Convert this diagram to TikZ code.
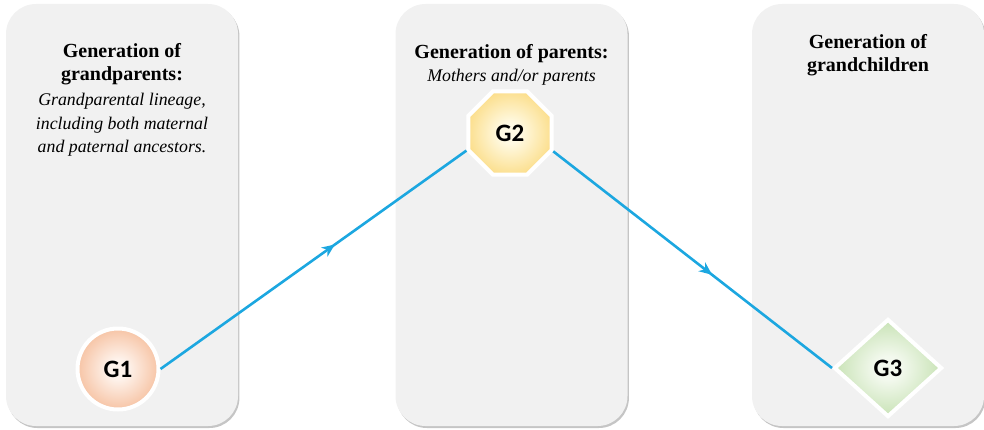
\documentclass[tikz,border=0pt]{standalone}
\usepackage{fontspec}
\setmainfont{Liberation Serif}
\newfontfamily\genfont{Carlito}
\usetikzlibrary{positioning,shapes.geometric,shadows,arrows.meta,decorations.markings}

\definecolor{panelgray}{HTML}{F1F1F1}
\definecolor{linkblue}{HTML}{1CA7E0}
\definecolor{gonein}{HTML}{FEF3EC}
\definecolor{goneout}{HTML}{F3AE84}
\definecolor{gtwoin}{HTML}{FFFAE4}
\definecolor{gtwoout}{HTML}{FAD368}
\definecolor{gthreein}{HTML}{F3F9EE}
\definecolor{gthreeout}{HTML}{B4D89B}

\pgfdeclareradialshading{gonesh}{\pgfpoint{0bp}{0bp}}{color(0bp)=(gonein); color(6bp)=(gonein); color(34bp)=(goneout); color(60bp)=(goneout)}
\pgfdeclareradialshading{gtwosh}{\pgfpoint{0bp}{0bp}}{color(0bp)=(gtwoin); color(6bp)=(gtwoin); color(34bp)=(gtwoout); color(60bp)=(gtwoout)}
\pgfdeclareradialshading{gthreesh}{\pgfpoint{0bp}{0bp}}{color(0bp)=(gthreein); color(6bp)=(gthreein); color(34bp)=(gthreeout); color(60bp)=(gthreeout)}

\tikzset{
  panel/.style={fill=panelgray,rounded corners=30pt,minimum width=232pt,minimum height=422pt,
    drop shadow={shadow xshift=1.4pt,shadow yshift=-2pt,fill=black!45,opacity=0.5}},
  title/.style={inner sep=0pt,align=center,font=\fontsize{20}{23.5}\selectfont\bfseries},
  subtitle/.style={inner sep=0pt,align=center,font=\fontsize{17.8}{23.5}\selectfont\itshape},
  gen/.style={draw=white,line width=4pt,inner sep=0pt,font=\genfont\fontsize{25}{25}\selectfont\bfseries,
    drop shadow={shadow xshift=0.6pt,shadow yshift=-1pt,fill=black!40,opacity=0.35}},
  link/.style={linkblue,line width=2.6pt,postaction={decorate},
    decoration={markings,mark=at position 0.57 with {\arrow{Stealth[length=13pt,width=11pt,inset=4pt]}}}},
}

\begin{document}
\begin{tikzpicture}[x=1pt,y=1pt]
\useasboundingbox (0,0) rectangle (984,429);

% panels
\node[panel] (p1) at (122,214) {};
\node[panel] (p2) at (511.5,214) {};
\node[panel] (p3) at (868,214) {};

\node[title,below=39pt of p1.north] (t1) {Generation of\\grandparents:};
\node[subtitle,below=8pt of t1] (s1) {Grandparental lineage,\\including both maternal\\and paternal ancestors.};
\node[title,below=40pt of p2.north] (t2) {Generation of parents:};
\node[subtitle,below=6pt of t2] (s2) {Mothers and/or parents};
\node[title,below=30pt of p3.north] (t3) {Generation of\\grandchildren};

% generations
\node[gen,circle,minimum size=81pt,shading=gonesh] (g1) at (118,60) {G1};
\node[gen,regular polygon,regular polygon sides=8,minimum size=90pt,shading=gtwosh] (g2) at (510,296) {G2};
\node[gen,diamond,aspect=1.1,minimum width=108pt,minimum height=98pt,shading=gthreesh] (g3) at (888,61) {G3};

\draw[link] (g1.east) -- (g2.202.5);
\draw[link] (g2.337.5) -- (g3.west);

\end{tikzpicture}
\end{document}
